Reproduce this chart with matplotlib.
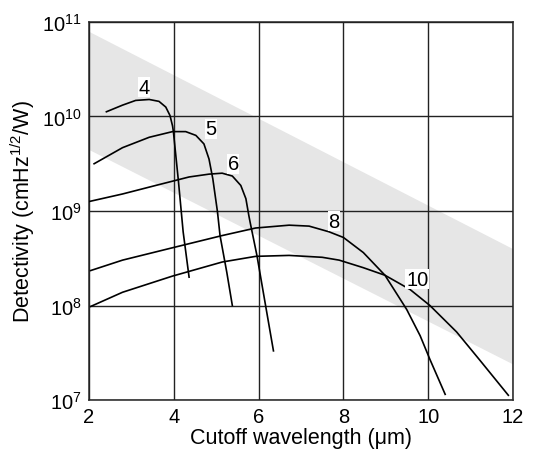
import matplotlib.pyplot as plt
import numpy as np

plt.rcParams['font.family'] = ['Liberation Sans', 'DejaVu Sans']
plt.rcParams['mathtext.fontset'] = 'custom'
plt.rcParams['mathtext.rm'] = 'Liberation Sans'
plt.rcParams['mathtext.it'] = 'Liberation Sans'
plt.rcParams['mathtext.default'] = 'regular'

# grey band (log10 of detectivity at x=2 and x=12)
band_x = [2, 12]
band_upper = [10.9, 8.6]
band_lower = [9.65, 7.38]

# curves: cutoff wavelength (um), log10 detectivity
c4_x = [2.41, 2.79, 3.10, 3.42, 3.65, 3.81, 3.91, 3.97, 3.99, 4.11, 4.22, 4.36]
c4_y = [10.05, 10.12, 10.17, 10.18, 10.16, 10.10, 10.01, 9.90, 9.84, 9.31, 8.78, 8.30]

c5_x = [2.12, 2.79, 3.42, 3.97, 4.28, 4.52, 4.71, 4.83, 4.92, 5.03, 5.09, 5.25, 5.38]
c5_y = [9.50, 9.67, 9.78, 9.84, 9.84, 9.80, 9.71, 9.55, 9.34, 8.99, 8.74, 8.35, 8.0]

c6_x = [2.0, 2.79, 3.57, 4.36, 4.83, 5.14, 5.38, 5.58, 5.70, 5.77, 5.80, 5.96, 6.11, 6.35]
c6_y = [9.10, 9.18, 9.27, 9.36, 9.39, 9.40, 9.37, 9.27, 9.13, 8.95, 8.88, 8.53, 8.14, 7.52]

c8_x = [2.04, 2.79, 3.96, 5.14, 5.93, 6.72, 7.19, 7.66, 8.0, 8.47, 8.98, 9.49, 9.81, 10.04, 10.40]
c8_y = [8.37, 8.48, 8.61, 8.74, 8.82, 8.85, 8.84, 8.78, 8.72, 8.56, 8.32, 7.96, 7.68, 7.43, 7.06]

c10_x = [2.04, 2.79, 3.96, 5.14, 5.93, 6.72, 7.50, 7.90, 8.47, 8.98, 9.57, 10.04, 10.67, 11.22, 11.89]
c10_y = [7.99, 8.14, 8.31, 8.46, 8.52, 8.53, 8.51, 8.48, 8.40, 8.32, 8.17, 8.0, 7.72, 7.42, 7.05]

curves = [(c4_x, c4_y), (c5_x, c5_y), (c6_x, c6_y), (c8_x, c8_y), (c10_x, c10_y)]
labels = ['4', '5', '6', '8', '10']
label_x = [3.30, 4.87, 5.40, 7.78, 9.74]
label_y = [10.31, 9.87, 9.50, 8.89, 8.28]

fig = plt.figure(figsize=(5.34, 4.56), dpi=100)
ax = fig.add_axes([0.1667, 0.1206, 0.794, 0.829])

ax.fill_between(band_x, 10 ** np.array(band_lower), 10 ** np.array(band_upper),
                color='#e6e6e6', linewidth=0, zorder=0)

for (xs, ys) in curves:
    ax.plot(xs, 10 ** np.array(ys), color='black', linewidth=1.2, zorder=3,
            solid_joinstyle='round')

for t, lx, ly in zip(labels, label_x, label_y):
    ax.text(lx, 10 ** ly, t, fontsize=14.5, ha='center', va='center', zorder=4,
            bbox=dict(facecolor='white', edgecolor='none', pad=0.5))

ax.set_yscale('log')
ax.set_xlim(2, 12)
ax.set_ylim(1e7, 1e11)
ax.set_xticks([2, 4, 6, 8, 10, 12])
ax.set_yticks([1e7, 1e8, 1e9, 1e10, 1e11])
ax.set_yticklabels(['$10^7$', '$10^8$', '$10^9$', '$10^{10}$', '$10^{11}$'])
ax.minorticks_off()
ax.tick_params(length=0, labelsize=14.5, pad=5)
ax.grid(True, color='#222222', linewidth=1.0, zorder=1)
ax.set_axisbelow(False)
for s in ax.spines.values():
    s.set_color('#333333')
    s.set_linewidth(1.2)

ax.set_xlabel('Cutoff wavelength (\u03bcm)', fontsize=15.5, labelpad=1)
ax.set_ylabel('Detectivity (cmHz$^{1/2}$/W)', fontsize=15.5, labelpad=4)

fig.savefig('out.png', dpi=100)
